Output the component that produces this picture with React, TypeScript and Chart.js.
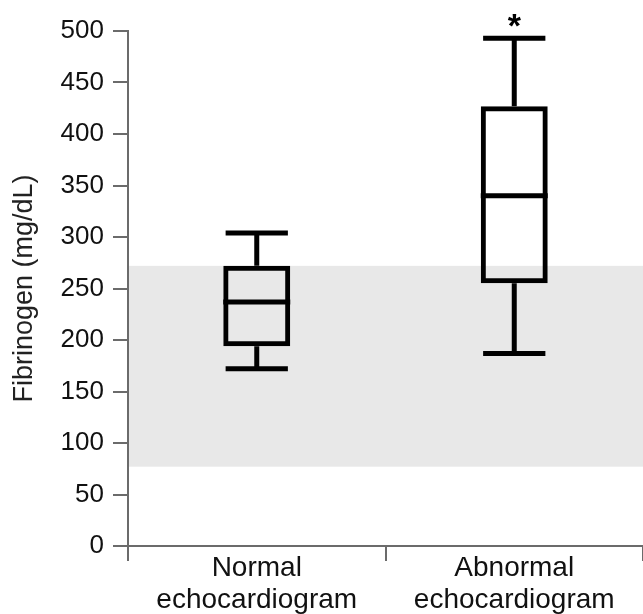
import React, { useEffect, useRef } from 'react';
import { Chart, registerables } from 'chart.js';

Chart.register(...registerables);

const categories: string[][] = [
  ['Normal', 'echocardiogram'],
  ['Abnormal', 'echocardiogram'],
];
const whiskerMin = [172, 187];
const q1 = [194, 255];
const median = [237, 340];
const q3 = [272, 427];
const whiskerMax = [304, 493];
const significance = ['', '*'];
const referenceRange = [77, 272];
const yMin = 0;
const yMax = 500;
const yStep = 50;
const yTitle = 'Fibrinogen (mg/dL)';

const FONT = "'Liberation Sans', Arial, Helvetica, sans-serif";
const AXIS_COLOR = '#6b6b6b';

const boxPlotPlugin = {
  id: 'boxPlotExtras',
  beforeDatasetsDraw(chart: any) {
    const { ctx, chartArea, scales } = chart;
    const y = scales.y;
    const top = y.getPixelForValue(referenceRange[1]);
    const bottom = y.getPixelForValue(referenceRange[0]);
    ctx.save();
    ctx.fillStyle = '#e8e8e8';
    ctx.fillRect(chartArea.left + 1, top, chartArea.right - chartArea.left - 1, bottom - top);
    ctx.restore();
  },
  afterDatasetsDraw(chart: any) {
    const { ctx, scales } = chart;
    const y = scales.y;
    const meta = chart.getDatasetMeta(0);
    ctx.save();
    ctx.strokeStyle = '#000';
    ctx.lineWidth = 5;
    ctx.lineCap = 'butt';
    meta.data.forEach((el: any, i: number) => {
      const x = el.x;
      const w = el.width;
      const capHalf = (w * 0.93) / 2;
      const pMin = y.getPixelForValue(whiskerMin[i]);
      const pMax = y.getPixelForValue(whiskerMax[i]);
      const pQ1 = y.getPixelForValue(q1[i]);
      const pQ3 = y.getPixelForValue(q3[i]);
      const pMed = y.getPixelForValue(median[i]);
      ctx.beginPath();
      ctx.moveTo(x, pQ3);
      ctx.lineTo(x, pMax);
      ctx.moveTo(x - capHalf, pMax);
      ctx.lineTo(x + capHalf, pMax);
      ctx.moveTo(x, pQ1);
      ctx.lineTo(x, pMin);
      ctx.moveTo(x - capHalf, pMin);
      ctx.lineTo(x + capHalf, pMin);
      ctx.moveTo(x - w / 2, pMed);
      ctx.lineTo(x + w / 2, pMed);
      ctx.stroke();
      if (significance[i]) {
        ctx.fillStyle = '#000';
        ctx.font = `bold 34px ${FONT}`;
        ctx.textAlign = 'center';
        ctx.textBaseline = 'alphabetic';
        ctx.fillText(significance[i], x, pMax - 1);
      }
    });
    ctx.restore();
  },
};

export default function App() {
  const canvasRef = useRef<HTMLCanvasElement | null>(null);

  useEffect(() => {
    if (!canvasRef.current) return;
    const chart = new Chart(canvasRef.current, {
      type: 'bar',
      data: {
        labels: categories,
        datasets: [
          {
            label: 'Fibrinogen',
            data: q1.map((v, i) => [v, q3[i]]),
            backgroundColor: 'rgba(0,0,0,0)',
            borderColor: '#000',
            borderWidth: 5,
            borderSkipped: false,
            barPercentage: 0.26,
            categoryPercentage: 1,
          },
        ],
      },
      options: {
        animation: false,
        responsive: false,
        maintainAspectRatio: false,
        layout: { padding: { top: 31, right: 0, left: 0, bottom: 0 } },
        plugins: {
          legend: { display: false },
          tooltip: { enabled: false },
          title: { display: false },
        },
        scales: {
          x: {
            type: 'category',
            offset: true,
            border: { display: true, color: AXIS_COLOR, width: 2 },
            grid: {
              display: true,
              offset: true,
              drawOnChartArea: false,
              drawTicks: true,
              tickLength: 15,
              color: AXIS_COLOR,
              lineWidth: 2,
            },
            ticks: {
              color: '#111',
              font: { family: FONT, size: 28, lineHeight: 1.15 },
              padding: -9,
              maxRotation: 0,
              autoSkip: false,
            },
            afterFit(scale: any) {
              scale.height = 68;
            },
          },
          y: {
            min: yMin,
            max: yMax,
            border: { display: true, color: AXIS_COLOR, width: 2 },
            grid: {
              display: true,
              drawOnChartArea: false,
              drawTicks: true,
              tickLength: 15,
              color: AXIS_COLOR,
              lineWidth: 2,
            },
            ticks: {
              stepSize: yStep,
              color: '#111',
              font: { family: FONT, size: 26 },
              padding: 9,
            },
            title: {
              display: true,
              text: yTitle,
              color: '#222',
              font: { family: FONT, size: 27 },
              padding: { top: 8, bottom: 0 },
            },
            afterFit(scale: any) {
              scale.width = 128;
            },
          },
        },
      },
      plugins: [boxPlotPlugin],
    });
    return () => chart.destroy();
  }, []);

  return (
    <div style={{ position: 'absolute', left: 0, top: 0, width: 643, height: 614 }}>
      <canvas ref={canvasRef} width={643} height={614} />
    </div>
  );
}
